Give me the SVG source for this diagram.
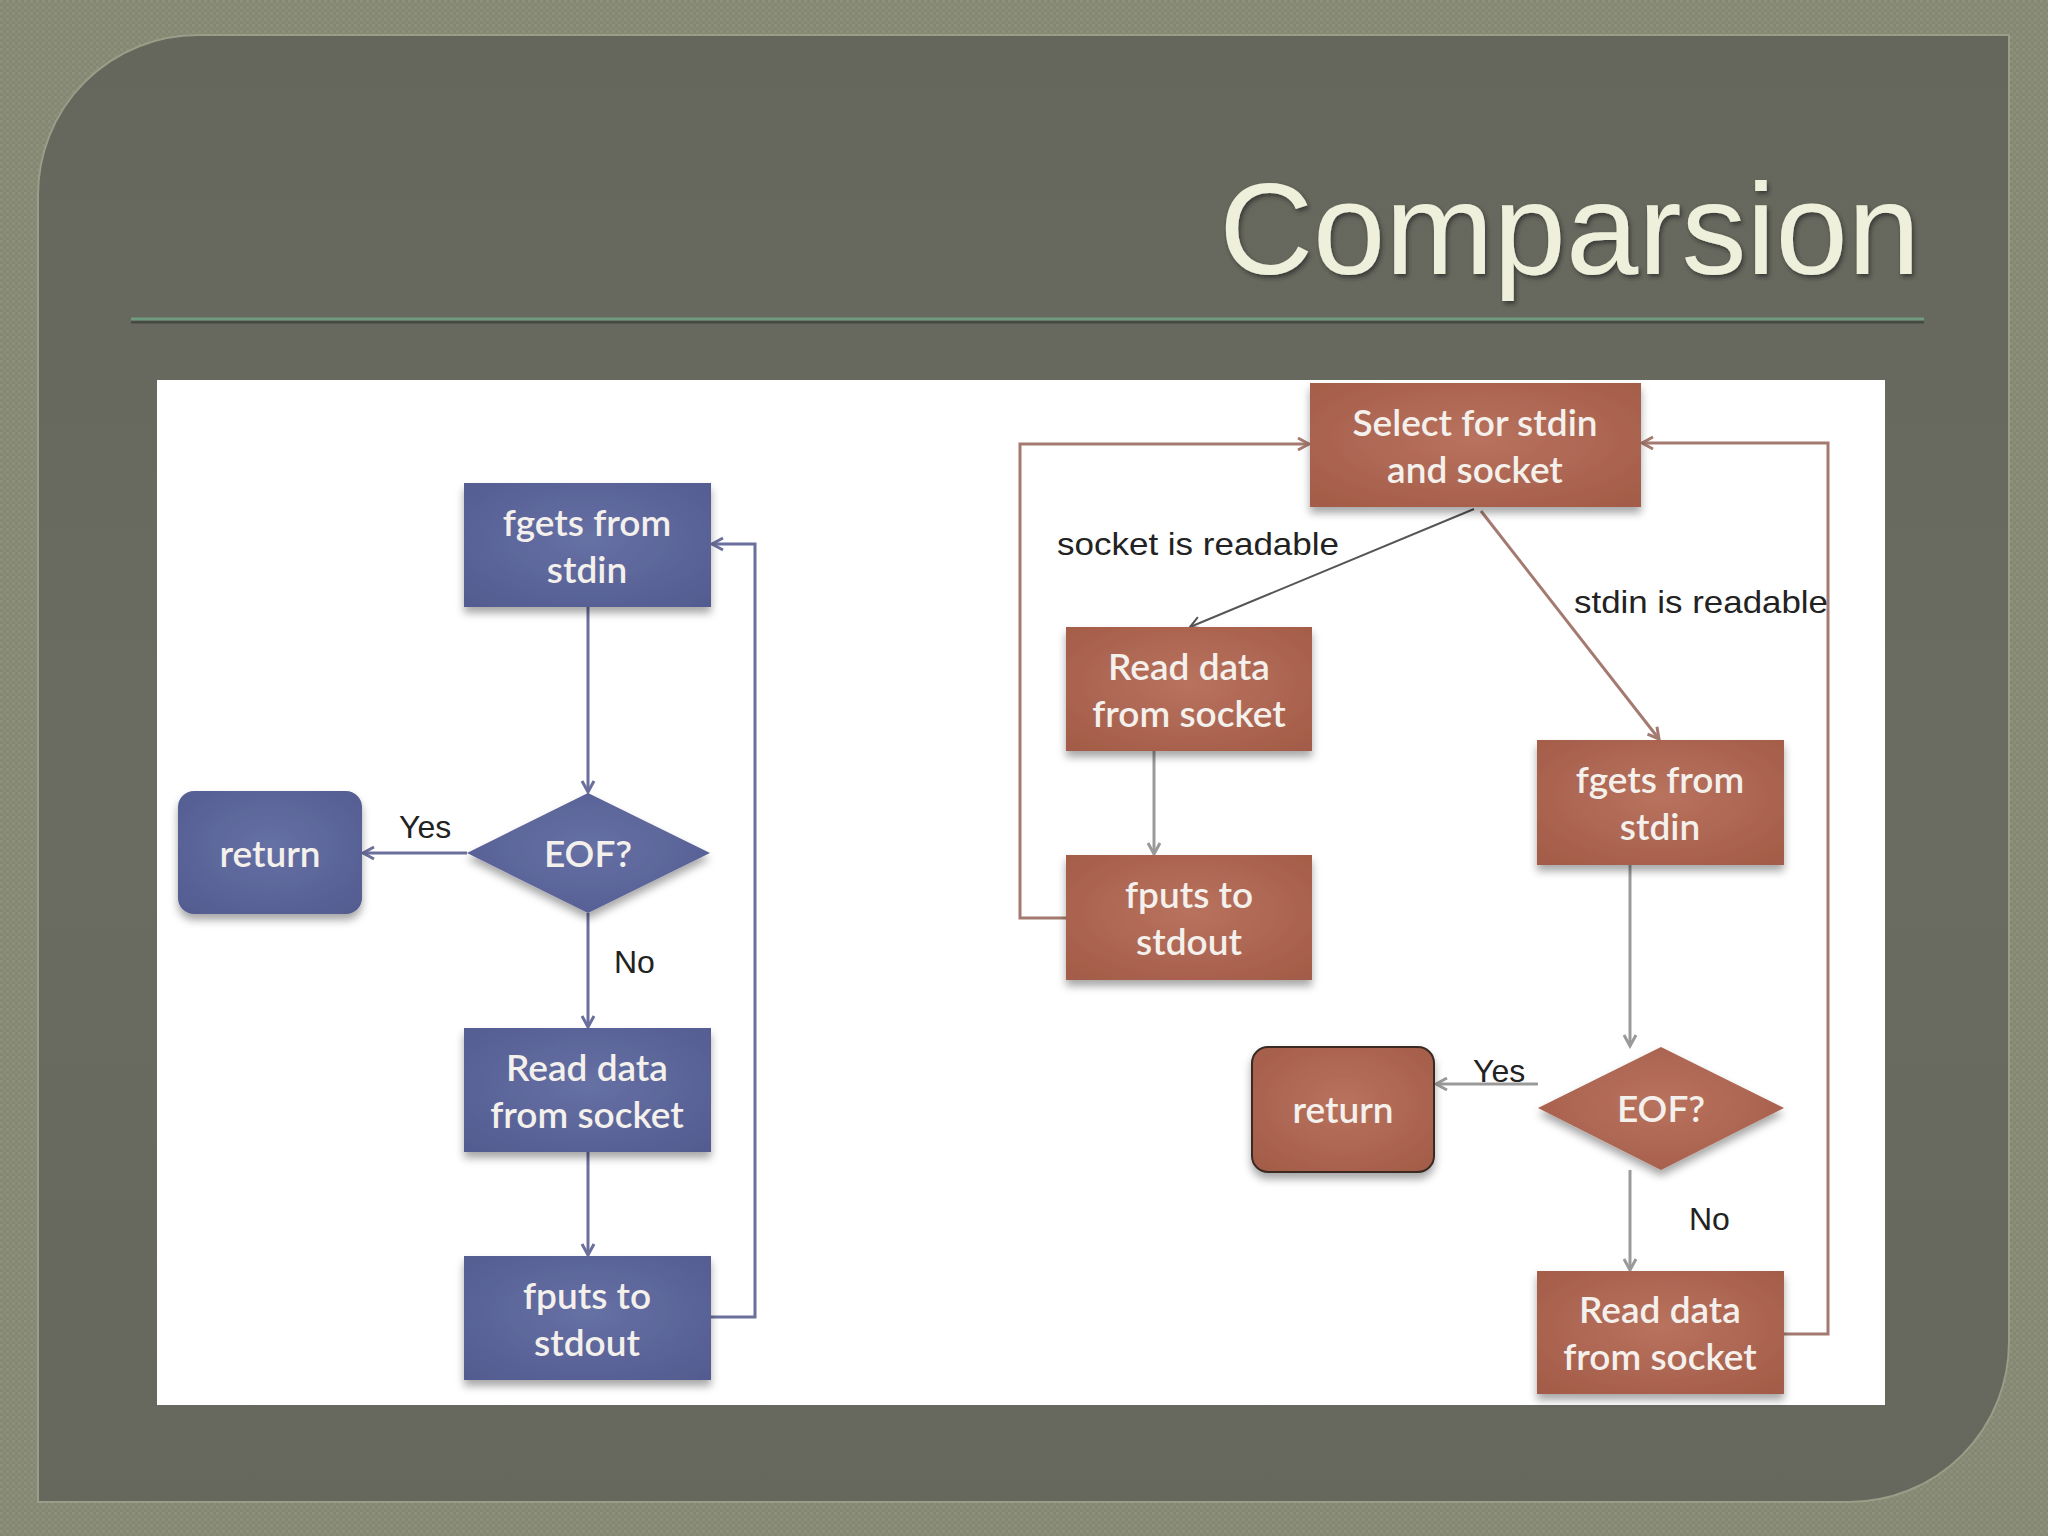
<svg xmlns="http://www.w3.org/2000/svg" width="2048" height="1536" viewBox="0 0 2048 1536">
<defs>
<pattern id="tex" width="6" height="6" patternUnits="userSpaceOnUse">
<rect width="6" height="6" fill="#848771"/>
<rect x="0" y="0" width="3" height="3" fill="#8d907b"/>
<rect x="3" y="3" width="3" height="3" fill="#8a8d78"/>
</pattern>
<linearGradient id="panelG" x1="0" y1="0" x2="0" y2="1">
<stop offset="0" stop-color="#65675c"/>
<stop offset="0.5" stop-color="#6a6c61"/>
<stop offset="1" stop-color="#66685d"/>
</linearGradient>
<radialGradient id="blueG" cx="0.5" cy="0.45" r="0.7">
<stop offset="0" stop-color="#6670a4"/>
<stop offset="1" stop-color="#535c90"/>
</radialGradient>
<radialGradient id="brownG" cx="0.5" cy="0.45" r="0.7">
<stop offset="0" stop-color="#b8725e"/>
<stop offset="1" stop-color="#a35c48"/>
</radialGradient>
<filter id="shadow" x="-10%" y="-10%" width="120%" height="135%">
<feDropShadow dx="0" dy="6" stdDeviation="4" flood-color="#000" flood-opacity="0.35"/>
</filter>
<filter id="tshadow" x="-5%" y="-10%" width="110%" height="130%">
<feDropShadow dx="2" dy="3" stdDeviation="2" flood-color="#2a2b25" flood-opacity="0.7"/>
</filter>
<marker id="aBlue" markerWidth="16" markerHeight="16" refX="13" refY="8" orient="auto" markerUnits="userSpaceOnUse">
<path d="M2,2 L13,8 L2,14" fill="none" stroke="#6b6f9c" stroke-width="3"/>
</marker>
<marker id="aBrown" markerWidth="16" markerHeight="16" refX="13" refY="8" orient="auto" markerUnits="userSpaceOnUse">
<path d="M2,2 L13,8 L2,14" fill="none" stroke="#a47a70" stroke-width="3"/>
</marker>
<marker id="aGray" markerWidth="16" markerHeight="16" refX="13" refY="8" orient="auto" markerUnits="userSpaceOnUse">
<path d="M2,2 L13,8 L2,14" fill="none" stroke="#9a9a9a" stroke-width="3"/>
</marker>
<marker id="aDark" markerWidth="16" markerHeight="16" refX="13" refY="8" orient="auto" markerUnits="userSpaceOnUse">
<path d="M2,2 L13,8 L2,14" fill="none" stroke="#555" stroke-width="2"/>
</marker>
</defs>
<style>
.bt{font-family:Lato,"Open Sans","DejaVu Sans",sans-serif;font-size:37px;font-weight:600;fill:#f4f0ec;text-anchor:middle}
.lb{font-family:"Liberation Sans",Arial,sans-serif;font-size:32px;fill:#222}
.blue{fill:url(#blueG);filter:url(#shadow)}
.brown{fill:url(#brownG);filter:url(#shadow)}
.cb{fill:none;stroke:#6b6f9c;stroke-width:3}
.cr{fill:none;stroke:#a47a70;stroke-width:3}
.cg{fill:none;stroke:#9a9a9a;stroke-width:3}
.cd{fill:none;stroke:#555;stroke-width:2}
</style>
<rect width="2048" height="1536" fill="url(#tex)"/>
<path d="M198,35 H2009 V1342 A160,160 0 0 1 1849,1502 H38 V195 A160,160 0 0 1 198,35 Z" fill="url(#panelG)" stroke="#9a9d88" stroke-width="2"/>
<text x="1920" y="274" font-family="'Liberation Sans',Arial,sans-serif" font-size="130" fill="#eef0dc" text-anchor="end" filter="url(#tshadow)">Comparsion</text>
<line x1="131" y1="322" x2="1924" y2="322" stroke="#474a40" stroke-width="3"/>
<line x1="131" y1="319" x2="1924" y2="319" stroke="#6f9c7e" stroke-width="3"/>
<rect x="157" y="380" width="1728" height="1025" fill="#ffffff"/>

<g id="connectors">
<line class="cb" x1="588" y1="607" x2="588" y2="792" marker-end="url(#aBlue)"/>
<line class="cb" x1="467" y1="853" x2="363" y2="853" marker-end="url(#aBlue)"/>
<line class="cb" x1="588" y1="913" x2="588" y2="1027" marker-end="url(#aBlue)"/>
<line class="cb" x1="588" y1="1152" x2="588" y2="1255" marker-end="url(#aBlue)"/>
<polyline class="cb" points="711,1317 755,1317 755,544 712,544" marker-end="url(#aBlue)"/>
<polyline class="cr" points="1066,918 1020,918 1020,444 1309,444" marker-end="url(#aBrown)"/>
<polyline class="cr" points="1784,1334 1828,1334 1828,443 1642,443" marker-end="url(#aBrown)"/>
<line class="cd" x1="1474" y1="509" x2="1190" y2="627" marker-end="url(#aDark)"/>
<line class="cr" x1="1481" y1="511" x2="1659" y2="739" marker-end="url(#aBrown)"/>
<line class="cg" x1="1154" y1="751" x2="1154" y2="854" marker-end="url(#aGray)"/>
<line class="cg" x1="1630" y1="865" x2="1630" y2="1046" marker-end="url(#aGray)"/>
<line class="cg" x1="1538" y1="1084" x2="1436" y2="1084" marker-end="url(#aGray)"/>
<line class="cg" x1="1630" y1="1170" x2="1630" y2="1270" marker-end="url(#aGray)"/>
<text class="lb" x="399" y="838">Yes</text>
<text class="lb" x="614" y="973">No</text>
<text class="lb" x="1057" y="555" font-size="37" textLength="282" lengthAdjust="spacingAndGlyphs">socket is readable</text>
<text class="lb" x="1574" y="613" font-size="37" textLength="254" lengthAdjust="spacingAndGlyphs">stdin is readable</text>
<text class="lb" x="1473" y="1082">Yes</text>
<text class="lb" x="1689" y="1230">No</text>
</g>

<g id="l-fgets"><rect class="blue" x="464" y="483" width="247" height="124"/><text class="bt" x="587" y="536">fgets from</text><text class="bt" x="587" y="583">stdin</text></g>
<g id="l-eof"><polygon class="blue" points="588,793 710,853 588,913 467,853"/><text class="bt" x="588" y="867">EOF?</text></g>
<g id="l-return"><rect class="blue" x="178" y="791" width="184" height="123" rx="16"/><text class="bt" x="270" y="867">return</text></g>
<g id="l-read"><rect class="blue" x="464" y="1028" width="247" height="124"/><text class="bt" x="587" y="1081">Read data</text><text class="bt" x="587" y="1128">from socket</text></g>
<g id="l-fputs"><rect class="blue" x="464" y="1256" width="247" height="124"/><text class="bt" x="587" y="1309">fputs to</text><text class="bt" x="587" y="1356">stdout</text></g>

<g id="r-select"><rect class="brown" x="1310" y="383" width="331" height="124"/><text class="bt" x="1475" y="436">Select for stdin</text><text class="bt" x="1475" y="483">and socket</text></g>
<g id="r-read1"><rect class="brown" x="1066" y="627" width="246" height="124"/><text class="bt" x="1189" y="680">Read data</text><text class="bt" x="1189" y="727">from socket</text></g>
<g id="r-fputs"><rect class="brown" x="1066" y="855" width="246" height="125"/><text class="bt" x="1189" y="908">fputs to</text><text class="bt" x="1189" y="955">stdout</text></g>
<g id="r-fgets"><rect class="brown" x="1537" y="740" width="247" height="125"/><text class="bt" x="1660" y="793">fgets from</text><text class="bt" x="1660" y="840">stdin</text></g>
<g id="r-eof"><polygon class="brown" points="1661,1047 1784,1108 1661,1170 1538,1108"/><text class="bt" x="1661" y="1122">EOF?</text></g>
<g id="r-return"><rect class="brown" x="1252" y="1047" width="182" height="125" rx="16" stroke="#3a2a24" stroke-width="2"/><text class="bt" x="1343" y="1123">return</text></g>
<g id="r-read2"><rect class="brown" x="1537" y="1271" width="247" height="123"/><text class="bt" x="1660" y="1323">Read data</text><text class="bt" x="1660" y="1370">from socket</text></g>
</svg>
